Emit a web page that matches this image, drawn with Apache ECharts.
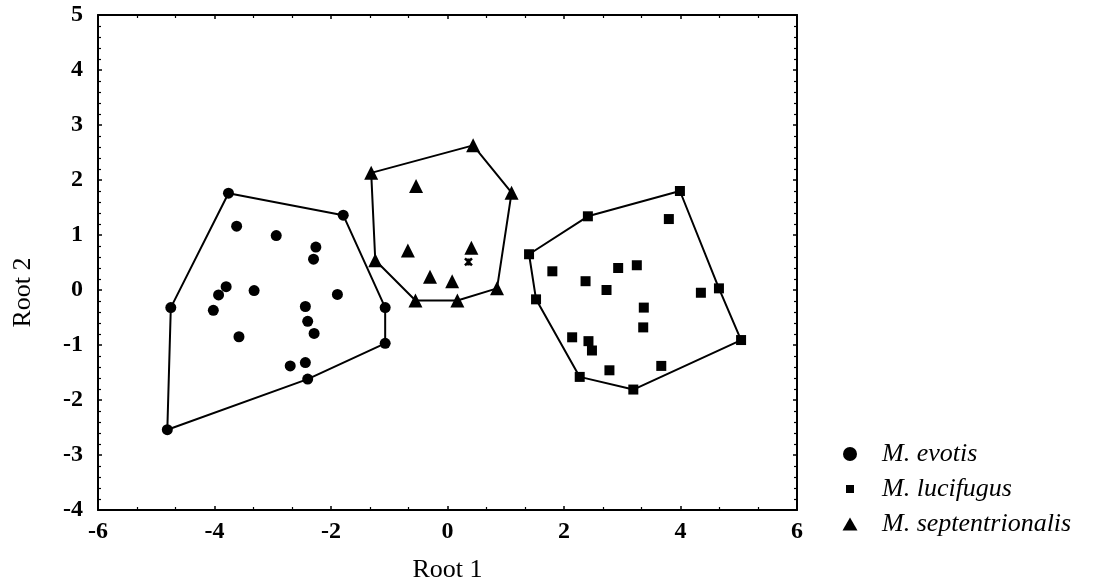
<!DOCTYPE html>
<html>
<head>
<meta charset="utf-8">
<script src="https://cdn.jsdelivr.net/npm/echarts@6/dist/echarts.min.js"></script>
<style>
  html, body { margin: 0; padding: 0; background: #fff; }
  #chart { width: 1098px; height: 587px; }
</style>
</head>
<body>
<div id="chart"></div>
<script>
// Discriminant scores (Root 1, Root 2) for each specimen
const evotis = [
  [-4.75, -0.32], [-4.81, -2.54], [-3.80, 0.06], [-3.93, -0.09], [-4.02, -0.37],
  [-3.32, -0.01], [-3.58, -0.85], [-2.44, -0.30], [-2.40, -0.57], [-2.29, -0.79],
  [-1.89, -0.08], [-1.07, -0.32], [-1.07, -0.97], [-2.70, -1.38], [-2.44, -1.32],
  [-2.40, -1.62], [-2.30, 0.56], [-3.76, 1.76], [-3.62, 1.16], [-2.94, 0.99],
  [-1.79, 1.36], [-2.26, 0.78]
];
const lucifugus = [
  [3.99, 1.80], [2.41, 1.34], [1.40, 0.65], [1.52, -0.17], [3.80, 1.29],
  [1.80, 0.34], [2.37, 0.16], [2.93, 0.40], [3.25, 0.45], [2.73, 0.00],
  [3.37, -0.32], [3.36, -0.68], [4.35, -0.05], [4.66, 0.03], [5.04, -0.91],
  [2.14, -0.86], [2.42, -0.93], [2.48, -1.10], [2.27, -1.58], [2.78, -1.46],
  [3.19, -1.81], [3.67, -1.38]
];
const septentrionalis = [
  [-1.31, 2.13], [0.44, 2.63], [1.10, 1.77], [-0.54, 1.89], [-1.24, 0.54],
  [-0.68, 0.72], [0.41, 0.77], [-0.30, 0.24], [0.08, 0.16], [-0.55, -0.19],
  [0.17, -0.19], [0.85, 0.03]
];
// Specimen of unknown group
const unassigned = [[0.36, 0.51]];

// Convex hull outlines (closed)
const hullEvotis = [
  [-3.76, 1.76], [-1.79, 1.36], [-1.07, -0.32], [-1.07, -0.97], [-2.40, -1.62],
  [-4.81, -2.54], [-4.75, -0.32], [-3.76, 1.76]
];
const hullLucifugus = [
  [1.40, 0.65], [2.41, 1.34], [3.99, 1.80], [4.66, 0.03], [5.04, -0.91],
  [3.19, -1.81], [2.27, -1.58], [1.52, -0.17], [1.40, 0.65]
];
const hullSeptentrionalis = [
  [-1.31, 2.13], [0.44, 2.63], [1.10, 1.77], [0.85, 0.03], [0.17, -0.19],
  [-0.55, -0.19], [-1.24, 0.54], [-1.31, 2.13]
];

const xTicks = [-6, -4, -2, 0, 2, 4, 6];
const yTicks = [-4, -3, -2, -1, 0, 1, 2, 3, 4, 5];
const seriesNames = ['M. evotis', 'M. lucifugus', 'M. septentrionalis'];

const serif = '"Liberation Serif", "DejaVu Serif", serif';
const ink = '#000';

function valueAxis(opts) {
  return Object.assign({
    type: 'value',
    axisLine: { show: true, onZero: false, lineStyle: { color: ink, width: 2 } },
    axisTick: { show: true, inside: true, length: 4, lineStyle: { color: ink, width: 1.5 } },
    splitLine: { show: false },
    minorSplitLine: { show: false }
  }, opts);
}

const chart = echarts.init(document.getElementById('chart'), null, { renderer: 'canvas' });

const hullLine = (data) => ({
  type: 'line',
  data: data,
  symbol: 'none',
  silent: true,
  z: 1,
  lineStyle: { color: ink, width: 2 }
});

// One legend block per species so each marker can have its own size
const legendRow = (name, icon, w, h, centerY) => {
  const left = 850 - w / 2;
  return {
    data: [{ name: name, icon: icon }],
    left: left,
    top: centerY - 13,
    padding: 0,
    orient: 'vertical',
    itemWidth: w,
    itemHeight: h,
    itemGap: 0,
    selectedMode: false,
    textStyle: {
      fontFamily: serif, fontStyle: 'italic', fontSize: 26, color: ink,
      lineHeight: 26, padding: [0, 0, 0, 882 - (left + w + 5)]
    }
  };
};

const tickFont = { color: ink, fontFamily: serif, fontSize: 24, fontWeight: 'bold' };
const minor = (n) => ({ show: true, splitNumber: n, length: 3, lineStyle: { color: ink, width: 1.2 } });

chart.setOption({
  backgroundColor: '#fff',
  animation: false,
  grid: { left: 98, right: 301, top: 15, bottom: 77, containLabel: false, outerBoundsMode: 'none' },
  xAxis: [
    valueAxis({
      position: 'bottom', min: xTicks[0], max: xTicks[xTicks.length - 1], interval: 2,
      minorTick: minor(3),
      axisLabel: Object.assign({ margin: 10 }, tickFont),
      name: 'Root 1', nameLocation: 'middle', nameGap: 47,
      nameTextStyle: { color: ink, fontFamily: serif, fontSize: 26 }
    }),
    valueAxis({
      position: 'top', min: xTicks[0], max: xTicks[xTicks.length - 1], interval: 2,
      minorTick: minor(3),
      axisLabel: { show: false }
    })
  ],
  yAxis: [
    valueAxis({
      position: 'left', min: yTicks[0], max: yTicks[yTicks.length - 1], interval: 1,
      minorTick: minor(5),
      axisLabel: Object.assign({ margin: 15 }, tickFont),
      name: 'Root 2', nameLocation: 'middle', nameGap: 62, nameRotate: 90,
      nameTextStyle: { color: ink, fontFamily: serif, fontSize: 26, padding: [0, 60, 0, 0] }
    }),
    valueAxis({
      position: 'right', min: yTicks[0], max: yTicks[yTicks.length - 1], interval: 1,
      minorTick: minor(5),
      axisLabel: { show: false }
    })
  ],
  legend: [
    legendRow(seriesNames[0], 'circle', 14, 14, 454),
    legendRow(seriesNames[1], 'rect', 8, 8, 489),
    legendRow(seriesNames[2], 'triangle', 15, 13, 524)
  ],
  series: [
    hullLine(hullEvotis),
    hullLine(hullLucifugus),
    hullLine(hullSeptentrionalis),
    {
      name: seriesNames[0], type: 'scatter', data: evotis, z: 3,
      symbol: 'circle', symbolSize: 11, itemStyle: { color: ink, opacity: 1 }
    },
    {
      name: seriesNames[1], type: 'scatter', data: lucifugus, z: 3,
      symbol: 'rect', symbolSize: 10, itemStyle: { color: ink, opacity: 1 }
    },
    {
      name: seriesNames[2], type: 'scatter', data: septentrionalis, z: 3,
      symbol: 'triangle', symbolSize: 14, itemStyle: { color: ink, opacity: 1 }
    },
    {
      name: 'unassigned', type: 'scatter', data: unassigned, z: 3,
      symbol: 'path://M0,0 L10,10 M10,0 L0,10 M5,0 L5,10',
      symbolSize: 7,
      itemStyle: { color: 'none', borderColor: ink, borderWidth: 2.5, opacity: 1 }
    }
  ]
});
</script>
</body>
</html>
